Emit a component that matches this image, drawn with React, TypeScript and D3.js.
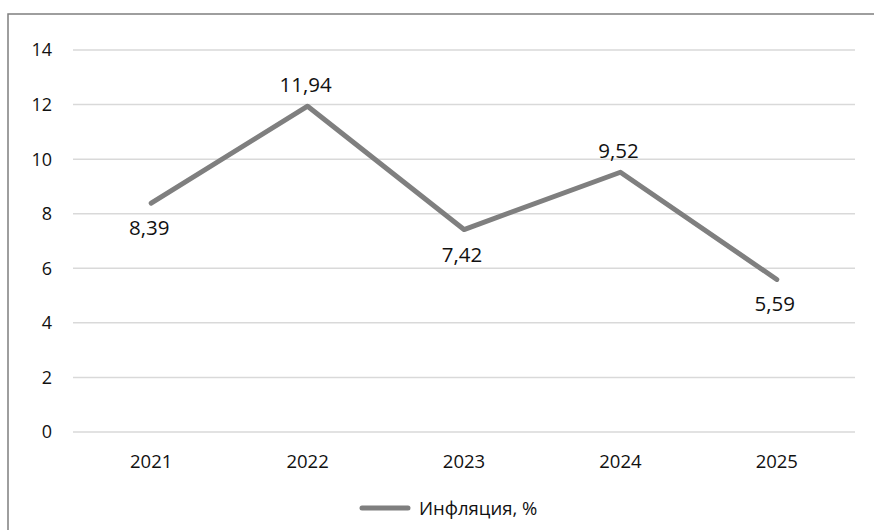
import React from "react";
import * as d3 from "d3";

const years = ["2021", "2022", "2023", "2024", "2025"];
const inflation = [8.39, 11.94, 7.42, 9.52, 5.59];
const yTicks = [0, 2, 4, 6, 8, 10, 12, 14];
const seriesName = "Инфляция, %";
// label placement: above / below the point
const labelSide = ["below", "above", "below", "above", "below"];

const W = 874;
const H = 530;
const FONT = "'Open Sans', 'Noto Sans', sans-serif";
const TEXT = "#111";

export default function App() {
  const x = d3.scaleBand<string>().domain(years).range([73, 855]);
  const y = d3.scaleLinear().domain([0, 14]).range([432, 50]);
  const cx = (d: string) => (x(d) ?? 0) + x.bandwidth() / 2;
  const line = d3
    .line<number>()
    .x((_, i) => cx(years[i]))
    .y((v) => y(v));
  const fmt = (v: number) => v.toFixed(2).replace(".", ",");

  return (
    <svg
      width={W}
      height={H}
      style={{ position: "absolute", left: 0, top: 0, background: "#fff" }}
    >
      <rect x={0} y={0} width={W} height={H} fill="#fff" />
      <rect x={8} y={14} width={W + 20} height={H + 20} fill="none" stroke="#7f7f7f" strokeWidth={1.5} />
      {yTicks.map((t) => (
        <g key={t}>
          <line x1={73} x2={855} y1={y(t)} y2={y(t)} stroke="#d9d9d9" strokeWidth={1.5} />
          <text
            x={52}
            y={y(t)}
            dy="0.36em"
            textAnchor="end"
            fontFamily={FONT}
            fontSize={18}
            fill={TEXT}
          >
            {t}
          </text>
        </g>
      ))}
      {years.map((yr) => (
        <text
          key={yr}
          x={cx(yr)}
          y={468}
          textAnchor="middle"
          fontFamily={FONT}
          fontSize={18.5}
          fill={TEXT}
        >
          {yr}
        </text>
      ))}
      <path
        d={line(inflation) ?? ""}
        fill="none"
        stroke="#7f7f7f"
        strokeWidth={5}
        strokeLinejoin="round"
        strokeLinecap="round"
      />
      {inflation.map((v, i) => (
        <text
          key={i}
          x={cx(years[i]) - 2}
          y={y(v) + (labelSide[i] === "above" ? -14 : 32)}
          textAnchor="middle"
          fontFamily={FONT}
          fontSize={20.5}
          fill={TEXT}
        >
          {fmt(v)}
        </text>
      ))}
      <line x1={362} x2={408} y1={508} y2={508} stroke="#7f7f7f" strokeWidth={5} strokeLinecap="round" />
      <text x={419} y={515} fontFamily={FONT} fontSize={18.5} fill={TEXT}>
        {seriesName}
      </text>
    </svg>
  );
}
